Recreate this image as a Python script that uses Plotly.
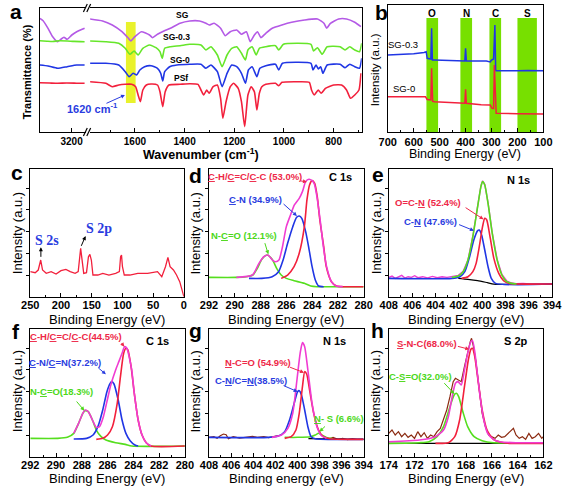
import plotly.graph_objects as go

W, H = 564, 488
FONT = "Liberation Sans"
SERIF = "Liberation Serif"

# ---------------- panel a : FTIR ----------------
a_ticks_left = [3200]
a_sg_lx = [3329, 3316, 3296, 3277, 3257, 3244, 3231, 3218, 3199, 3179, 3147]
a_sg_ly = [114.7, 112.3, 104.7, 96.3, 91.3, 93.7, 95.7, 93.7, 98, 101.3, 104.7]
a_g_lx = [3329, 3300, 3277, 3250, 3218, 3190, 3147]
a_g_ly = [92.3, 91.8, 91.5, 92.2, 92, 91.6, 91.3]
a_b_lx = [3329, 3296, 3257, 3218, 3179, 3147]
a_b_ly = [68, 67, 64.7, 66.3, 68, 68]
a_r_lx = [3329, 3290, 3257, 3220, 3180, 3147]
a_r_ly = [50.3, 50, 49.7, 50, 49.8, 49.7]

a_sg_x = [1782, 1730, 1691, 1652, 1626, 1616, 1600, 1574, 1541, 1529, 1509, 1483, 1457, 1418, 1379, 1340,
          1314, 1301, 1281, 1255, 1236, 1216, 1190, 1171, 1151, 1136, 1119, 1106, 1093, 1073, 1047, 1008,
          969, 917, 865, 839, 828, 813, 780, 748, 715, 690]
a_sg_y = [114, 112, 108, 101.3, 94.7, 92, 96.3, 101.3, 98, 95.3, 98.7, 102, 104.7, 109.7, 112, 112,
          109.7, 108, 109.7, 104.7, 97.3, 101.3, 103, 98.7, 101.3, 91.3, 98, 101.3, 95.3, 99.7, 104.7, 108,
          110.7, 113, 114, 109.7, 104.7, 109.7, 114, 114, 110.7, 106.3]
a_g_x = [1782, 1717, 1665, 1639, 1620, 1603, 1587, 1568, 1541, 1515, 1499, 1490, 1480, 1457, 1418, 1379,
         1334, 1314, 1294, 1268, 1249, 1229, 1210, 1190, 1171, 1155, 1145, 1128, 1112, 1099, 1073, 1034,
         1021, 1002, 943, 891, 881, 865, 846, 826, 774, 754, 735, 715, 696, 687]
a_g_y = [92, 91.3, 89.7, 84.7, 78.7, 82, 78, 84.7, 88, 85.3, 81.3, 74.7, 84.7, 86.3, 87.3, 88.7,
         88, 83, 86.3, 78, 66.3, 78, 84.7, 86.3, 79.7, 73, 83, 86.3, 78, 84.7, 86.3, 87.3,
         83, 88.7, 89.7, 88.7, 82, 85.3, 78.7, 86.3, 86.3, 83, 86.3, 83, 81.3, 89.7]
a_b_x = [1782, 1717, 1665, 1639, 1623, 1607, 1593, 1580, 1561, 1535, 1509, 1496, 1488, 1480, 1460, 1431,
         1379, 1334, 1314, 1294, 1268, 1249, 1229, 1210, 1190, 1171, 1155, 1143, 1128, 1109, 1097, 1073,
         1034, 1021, 1006, 943, 891, 883, 871, 861, 852, 843, 826, 774, 754, 735, 715, 696, 687]
a_b_y = [69.7, 69.7, 68, 61.3, 56.3, 59.7, 58, 63, 66.3, 67.3, 64.7, 59.7, 52, 61.3, 66.3, 68,
         68.7, 68.7, 64.7, 68, 61.3, 46.3, 59.7, 68, 66.3, 59.7, 49.7, 63, 66.3, 56.3, 64.7, 67.3,
         68.7, 63, 69.7, 70.7, 69.7, 63, 68, 64, 66.3, 59.7, 68, 68.7, 65.3, 68.7, 66.3, 64.7, 74.7]
a_r_x = [1782, 1717, 1691, 1665, 1639, 1613, 1597, 1587, 1578, 1568, 1554, 1535, 1509, 1499, 1488, 1478,
         1463, 1418, 1379, 1346, 1334, 1323, 1311, 1301, 1285, 1268, 1255, 1246, 1233, 1216, 1203, 1184,
         1171, 1158, 1145, 1132, 1119, 1109, 1099, 1089, 1073, 1034, 1021, 1008, 943, 898, 889, 878,
         862, 850, 833, 800, 768, 748, 732, 715, 698, 690]
a_r_y = [51.3, 49.7, 46.3, 48, 48.7, 48.7, 46.3, 38, 31.3, 43, 48, 49, 48, 41.3, 26.3, 41.3,
         48, 48.7, 49.3, 48.7, 43, 38, 43, 39.7, 46.3, 48, 34.7, 14.7, 31.3, 46.3, 49.7, 44.7,
         31.3, 6.3, 38, 46.3, 41.3, 23, 39.7, 46.3, 48.7, 49.7, 47.3, 50.7, 51.3, 50.7, 43, 38,
         43, 39.7, 44.7, 48, 48, 43, 34.7, 38, 43, 59.7]
a_band = [1636, 1597, 30, 111]

# ---------------- panel b : XPS survey ----------------
b_blue_x = [700, 650, 600, 560, 552, 548, 540, 534, 531, 528, 520, 450, 410, 403, 400, 397, 380, 320,
            305, 300, 292, 287, 284, 282, 200, 165, 160, 100]
b_blue_y = [78, 78.5, 79.3, 80.5, 81.3, 74.7, 74, 74, 104.7, 73, 73, 72.5, 72, 72, 84.7, 72, 72, 72,
            71, 73, 74, 108, 63, 62.3, 62.3, 63, 62.5, 62.3]
b_red_x = [700, 600, 555, 548, 540, 534, 531, 527, 520, 410, 403, 400, 397, 340, 305, 298, 292, 289,
           284, 282, 200, 100]
b_red_y = [36.3, 36.3, 36.3, 33.5, 33, 33, 64.7, 31.7, 31.3, 29.7, 29.7, 43.7, 29.7, 28.3, 28, 24.7,
           24.5, 68, 20, 19.7, 19.3, 19]
b_bands = [(551, 506), (420, 375), (308, 263), (200, 125)]
b_band_labels = ["O", "N", "C", "S"]
b_band_label_x = [528, 398, 286, 162]

# ---------------- panel c : S survey ----------------
c_x = [250, 242, 237, 233, 230, 224, 216, 208, 200, 192, 185, 177, 172, 169.5, 168, 166, 163, 158.5,
       155.3, 153, 150.6, 148, 140, 132, 122, 111, 105, 103, 101.5, 100, 97, 88, 75, 59, 43, 36, 30,
       26, 22.5, 17, 12, 6.8, 2.6, 0]
c_y = [75, 72, 80, 110, 80, 70, 75, 68, 78, 82, 75, 70, 75, 120, 145, 115, 70, 72,
       120, 127, 110, 65, 65, 70, 65, 70, 75, 120, 125, 90, 65, 65, 70, 70, 75, 60, 90,
       118, 90, 80, 65, 45, 20, 0]

# ---------------- panel d : C 1s ----------------
d_green_x = [292, 289.9, 289.1, 288.6, 288.25, 287.9, 287.5, 287.1, 286.75, 286.4, 286.0, 285.4, 284.6, 284.1, 283.6, 280]
d_green_y = [58, 58, 60, 65, 85, 112, 125, 112, 85, 65, 55, 48, 40, 32, 30, 30]
d_blue_x = [288.9, 287.9, 287.1, 286.6, 286.25, 285.9, 285.5, 285.2, 285.0, 284.8, 284.5, 284.25, 284.0, 283.75, 283.5, 283.1]
d_blue_y = [55, 55, 60, 75, 110, 160, 210, 238, 242, 235, 195, 145, 90, 50, 32, 30]
d_red_x = [286.4, 285.9, 285.4, 285.0, 284.6, 284.4, 284.2, 284.0, 283.8, 283.6, 283.4, 283.1, 282.9, 282.5, 282.1, 281.6, 280]
d_red_y = [55, 65, 90, 130, 210, 290, 335, 348, 340, 300, 230, 150, 90, 45, 32, 30, 30]
d_env_x = [289.875, 288.625, 288.125, 287.75, 287.425, 287.075, 286.825, 286.575, 286.325, 286.0, 285.675,
           285.375, 285.0, 284.75, 284.5, 284.25, 284.0, 283.825, 283.625, 283.375, 283.125, 282.875, 282.5,
           282.125, 281.625]
d_env_y = [58, 65, 100, 120, 125, 110, 105, 110, 145, 210, 245, 275, 295, 315, 345, 352, 348, 338, 300,
           230, 150, 90, 45, 32, 30]

# ---------------- panel e : N 1s ----------------
e_raw_x = [408, 407.72, 407.45, 407.17, 406.89, 406.61, 406.34, 406.06, 405.78, 405.5, 405.09, 404.67,
           404.26, 403.84, 403.43, 403.01, 402.59, 402.26, 402.04, 401.62, 401.21, 400.79, 400.38, 400.1,
           399.96, 399.77, 399.49, 399.13, 398.71, 398.3, 397.88, 397.47, 397.05, 396.49, 395.94, 395.39,
           394.83, 394]
e_raw_y = [58, 62, 55, 60, 64, 56, 60, 58, 63, 57, 60, 56, 61, 57, 60, 58, 60, 62, 64, 76, 110, 182, 272,
           332, 347, 337, 282, 192, 112, 67, 47, 41, 39, 40, 38, 39, 38, 38]
e_black_x = [402.04, 401.21, 400.38, 399.54, 398.99, 394]
e_black_y = [55, 52, 48, 42, 38, 38]
e_green_x = [402.59, 402.04, 401.62, 401.21, 400.79, 400.38, 400.1, 399.96, 399.77, 399.49, 399.13, 398.71,
             398.3, 397.88, 397.47, 397.05]
e_green_y = [58, 62, 75, 110, 180, 270, 330, 345, 335, 280, 190, 110, 65, 45, 40, 38]
e_red_x = [401.76, 401.21, 400.79, 400.51, 400.24, 399.96, 399.77, 399.6, 399.32, 398.99, 398.57, 398.16,
           397.74, 397.19, 394]
e_red_y = [55, 60, 75, 100, 150, 210, 235, 230, 180, 115, 70, 48, 40, 38, 38]
e_blue_x = [408, 402.59, 401.9, 401.48, 401.07, 400.71, 400.38, 400.24, 400.04, 399.77, 399.49, 399.21,
            398.85, 394]
e_blue_y = [55, 55, 60, 75, 120, 170, 198, 200, 185, 140, 90, 55, 40, 38]

# ---------------- panel f : C 1s ----------------
f_green_x = [292, 289.875, 289.125, 288.625, 288.25, 287.925, 287.75, 287.5, 287.175, 286.875, 286.5,
             286.125, 285.375, 284.625, 284.125, 280]
f_green_y = [55, 55, 58, 70, 100, 130, 138, 135, 110, 80, 60, 50, 42, 37, 32, 32]
f_blue_x = [288.625, 287.625, 287.125, 286.75, 286.375, 286.05, 285.8, 285.675, 285.5, 285.175, 284.875,
            284.575, 284.25, 283.875, 283.625]
f_blue_y = [53, 55, 65, 90, 140, 195, 220, 225, 218, 170, 110, 70, 48, 35, 32]
f_red_x = [286.875, 286.375, 286.0, 285.625, 285.25, 285.0, 284.75, 284.575, 284.425, 284.175, 283.925,
           283.625, 283.325, 283.0, 282.625, 280]
f_red_y = [52, 55, 65, 90, 160, 240, 310, 325, 320, 270, 190, 110, 65, 42, 32, 32]
f_env_x = [288.625, 288.25, 287.925, 287.75, 287.5, 287.175, 286.875, 286.625, 286.325, 286.05, 285.75,
           285.375, 285.125, 284.875, 284.675, 284.5, 284.325, 284.125, 283.925, 283.625, 283.325, 283.0,
           282.625]
f_env_y = [70, 100, 130, 140, 135, 110, 88, 90, 120, 165, 215, 260, 285, 310, 330, 325, 300, 260, 190,
           110, 65, 42, 32]

# ---------------- panel g : N 1s ----------------
g_raw_x = [408, 407.56, 407.27, 406.98, 406.69, 406.45, 406.25, 405.81, 405.23, 404.65, 404.06, 403.63,
           403.04, 402.6, 402.17, 401.73, None, 397.65, 397.21, 396.77, 396.33, 395.9, 395.46, 395.02,
           394.58, 394]
g_raw_y = [58, 60, 55, 63, 68, 66, 54, 60, 56, 59, 61, 58, 60, 57, 61, 63, None, 56, 52, 58, 52, 55, 51,
           54, 52, 53]
g_blue_x = [408, 402.6, 401.73, 401.15, 400.71, 400.33, 399.98, 399.83, 399.63, 399.34, 399.05, 398.76,
            398.38, 394]
g_blue_y = [58, 58, 62, 75, 110, 155, 195, 198, 185, 140, 90, 60, 54, 52]
g_red_x = [401.15, 400.56, 400.13, 399.83, 399.54, 399.34, 399.16, 398.87, 398.52, 398.08, 397.65, 397.06, 394]
g_red_y = [55, 60, 80, 130, 210, 255, 248, 195, 130, 80, 60, 54, 52]
g_env_x = [402.31, 401.44, 400.86, 400.42, 400.04, 399.75, 399.54, 399.34, 399.05, 398.67, 398.23, 397.79, 397.36]
g_env_y = [58, 65, 85, 130, 230, 310, 342, 330, 260, 160, 90, 62, 55]
g_green_x = [401.15, 399.98, 398.81, 398.38, 398.08, 397.79, 397.36, 396.77]
g_green_y = [58, 58, 60, 65, 70, 65, 58, 54]
g_black_x = [399.0, 394]
g_black_y = [54, 52]

# ---------------- panel h : S 2p ----------------
h_raw_x = [174, 173.75, 173.5, 173.25, 173, 172.75, 172.5, 172.25, 172, 171.75, 171.5, 171.25, 171,
           170.75, 170.5, 170.25, 170, 169.75, 169.5, 169.25, 169, 168.825, 168.625, 168.375, 168.125,
           167.875, 167.675, 167.575, 167.425, 167.25, 167, 166.75, 166.5, 166.25, 166, 165.75, 165.5,
           165.25, 165, 164.75, 164.5, 164.325, 164.125, 163.875, 163.625, 163.375, 163.125, 162.875,
           162.625, 162.375, 162.125, 162]
h_raw_y = [70, 80, 65, 75, 60, 70, 58, 65, 55, 75, 60, 72, 55, 65, 60, 75, 85, 110, 140, 180, 225, 235,
           230, 225, 270, 315, 345, 355, 330, 290, 210, 130, 90, 65, 60, 55, 65, 58, 60, 70, 80, 85, 65,
           55, 60, 52, 70, 55, 60, 70, 55, 60]
h_env_x = [174, 171.625, 170.375, 169.75, 169.375, 169.075, 168.825, 168.625, 168.375, 168.125, 167.875,
           167.625, 167.5, 167.325, 167.125, 166.875, 166.625, 166.325, 165.875, 165.375, 164.125, 162]
h_env_y = [45, 50, 60, 80, 120, 180, 220, 225, 215, 260, 310, 345, 348, 315, 250, 170, 110, 70, 52, 45, 42, 42]
h_green_x = [174, 171.625, 170.875, 170.25, 169.75, 169.25, 168.925, 168.75, 168.575, 168.25, 167.875,
             167.375, 166.75, 165.875, 162]
h_green_y = [40, 42, 45, 60, 90, 150, 185, 190, 180, 135, 90, 60, 48, 42, 42]
h_red_x = [170.375, 169.375, 168.875, 168.5, 168.125, 167.825, 167.625, 167.5, 167.325, 167.075, 166.75,
           166.375, 165.875, 165.375, 164.625, 162]
h_red_y = [40, 42, 60, 110, 210, 290, 322, 325, 300, 230, 140, 80, 52, 44, 40, 40]
h_black_x = [174, 162]
h_black_y = [40, 40]

# ---------------- colours ----------------
RED = "#F2203C"
BLUE = "#2036E4"
GREEN = "#55DE1E"
MAG = "#F03CD2"
VIOLET = "#B45AE6"
GREEN_A = "#66E62A"
BAND = "#77E000"
YEL = "#E9F22C"
RAW = "#8B2A10"
T_RED = "#EE2848"
T_BLUE = "#2A3CE0"
T_GREEN = "#4CD81A"


def px(x):
    return x / W


def py(y):
    return 1 - y / H


fig = go.Figure()


def ax_names(n):
    return ("x" if n == 1 else f"x{n}"), ("y" if n == 1 else f"y{n}")


def line(x, y, n, color, width=1.5, shape="spline", smoothing=0.6):
    xa, ya = ax_names(n)
    fig.add_trace(go.Scatter(x=x, y=y, xaxis=xa, yaxis=ya, mode="lines",
                             line=dict(color=color, width=width, shape=shape, smoothing=smoothing),
                             hoverinfo="skip", showlegend=False, connectgaps=False))


layout_axes = {}


def make_axes(n, xdom, ydom, xr, yr, xtick=None, tick0=None, minor=None, tickvals=None, fs=11,
              xmirror=True, yside="left", ymirror=True, yticks=None, standoff=0):
    xa, ya = ax_names(n)
    xk = "xaxis" if n == 1 else f"xaxis{n}"
    yk = "yaxis" if n == 1 else f"yaxis{n}"
    xd = dict(domain=[px(xdom[0]), px(xdom[1])], anchor=ya, range=xr, showline=True, linecolor="black",
              linewidth=1.4, mirror=xmirror, ticks="inside", ticklen=4, tickwidth=1, tickcolor="black",
              showgrid=False, zeroline=False, ticklabelstandoff=standoff,
              tickfont=dict(family=FONT, size=fs, color="black", weight="bold"))
    if tickvals is not None:
        xd.update(tickmode="array", tickvals=tickvals)
    else:
        xd.update(tickmode="linear", tick0=tick0, dtick=xtick)
    if minor is not None:
        xd["minor"] = dict(ticks="inside", ticklen=2, tickcolor="black", dtick=minor, tick0=tick0 or 0)
    yd = dict(domain=[py(ydom[1]), py(ydom[0])], anchor=xa, range=yr, showline=True, linecolor="black",
              linewidth=1.4, mirror=ymirror, side=yside, showgrid=False, zeroline=False,
              showticklabels=False)
    if yticks:
        yd.update(ticks="outside", ticklen=3, tickcolor="black", tickmode="array", tickvals=yticks)
    else:
        yd.update(ticks="")
    layout_axes[xk] = xd
    layout_axes[yk] = yd


# axes
make_axes(1, (32, 80), (8, 132), [3329, 3140], [1, 125], tickvals=a_ticks_left, fs=10, ymirror=False)
make_axes(2, (84, 365), (8, 132), [1780, 687], [1, 125], xtick=200, tick0=800, minor=100, fs=10,
          yside="right", ymirror=False)
make_axes(3, (392, 553), (5, 132), [700, 100], [1, 128], xtick=100, tick0=100, minor=50, fs=11)
low_top, low_bot = (169.3, 296.7), (329.3, 456.7)
yt = [65, 130, 195, 260, 325]
make_axes(4, (22, 181), low_top, [250, 0], [0, 382], xtick=50, tick0=0, minor=25, yticks=yt, standoff=-2)
make_axes(5, (207, 367), low_top, [292, 280], [0, 382], xtick=2, tick0=280, minor=1, yticks=yt, standoff=-2)
make_axes(6, (393, 562), low_top, [408, 394], [0, 382], xtick=2, tick0=394, minor=1, yticks=yt, standoff=-2)
make_axes(7, (22, 182), low_bot, [292, 280], [0, 382], xtick=2, tick0=280, minor=1, yticks=yt, standoff=-2)
make_axes(8, (207, 367), low_bot, [408, 394], [0, 382], xtick=2, tick0=394, minor=1, yticks=yt, standoff=-2)
make_axes(9, (393, 553), low_bot, [174, 162], [0, 382], xtick=2, tick0=162, minor=1, yticks=yt, standoff=-2)

# ---- traces panel a ----
for (lx, ly, rx, ry, col) in [(a_sg_lx, a_sg_ly, a_sg_x, a_sg_y, VIOLET),
                              (a_g_lx, a_g_ly, a_g_x, a_g_y, GREEN_A),
                              (a_b_lx, a_b_ly, a_b_x, a_b_y, BLUE),
                              (a_r_lx, a_r_ly, a_r_x, a_r_y, RED)]:
    line(lx, ly, 1, col, 1.6, smoothing=0.5)
    line(rx, ry, 2, col, 1.6, smoothing=0.5)

# ---- panel b ----
line(b_blue_x, b_blue_y, 3, BLUE, 1.5, shape="linear")
line(b_red_x, b_red_y, 3, RED, 1.5, shape="linear")

# ---- panel c ----
line(c_x, c_y, 4, RED, 1.3, shape="linear")

# ---- panel d ----
line(d_green_x, d_green_y, 5, GREEN, 1.6)
line(d_blue_x, d_blue_y, 5, BLUE, 1.6)
line(d_red_x, d_red_y, 5, RED, 1.6)
line(d_env_x, d_env_y, 5, MAG, 1.6)

# ---- panel e ----
line(e_raw_x, e_raw_y, 6, MAG, 1.4, shape="linear")
line(e_black_x, e_black_y, 6, "black", 1.2)
line(e_blue_x, e_blue_y, 6, BLUE, 1.6)
line(e_red_x, e_red_y, 6, RED, 1.6)
line(e_green_x, e_green_y, 6, GREEN, 1.6)

# ---- panel f ----
line(f_green_x, f_green_y, 7, GREEN, 1.6)
line(f_blue_x, f_blue_y, 7, BLUE, 1.6)
line(f_red_x, f_red_y, 7, RED, 1.6)
line(f_env_x, f_env_y, 7, MAG, 1.6)

# ---- panel g ----
line(g_raw_x, g_raw_y, 8, RAW, 1.2, shape="linear")
line(g_black_x, g_black_y, 8, "black", 1.2)
line(g_green_x, g_green_y, 8, GREEN, 1.5)
line(g_blue_x, g_blue_y, 8, BLUE, 1.6)
line(g_red_x, g_red_y, 8, RED, 1.6)
line(g_env_x, g_env_y, 8, MAG, 1.6)

# ---- panel h ----
line(h_black_x, h_black_y, 9, "black", 1.2, shape="linear")
line(h_raw_x, h_raw_y, 9, RAW, 1.2, shape="linear")
line(h_green_x, h_green_y, 9, GREEN, 1.6)
line(h_red_x, h_red_y, 9, RED, 1.6)
line(h_env_x, h_env_y, 9, MAG, 1.6)

shapes = []
# yellow band in a
shapes.append(dict(type="rect", xref="x2", yref="y2", x0=a_band[0], x1=a_band[1], y0=a_band[2],
                   y1=a_band[3], fillcolor=YEL, line=dict(width=0), layer="below"))
# green bands in b
for (x0, x1) in b_bands:
    shapes.append(dict(type="rect", xref="x3", yref="y3", x0=x0, x1=x1, y0=1, y1=115,
                       fillcolor=BAND, line=dict(width=0), layer="below"))
# axis-break marks in a
for yb in (8, 132):
    for xo in (0, 3.5):
        shapes.append(dict(type="line", xref="paper", yref="paper",
                           x0=px(77 + xo), y0=py(yb + 4), x1=px(81 + xo), y1=py(yb - 4),
                           line=dict(color="black", width=1.2)))

annotations = []


def ptxt(text, x, y, size, color="black", bold=True, family=FONT, angle=0, xanchor="center"):
    annotations.append(dict(text=text, x=px(x), y=py(y), xref="paper", yref="paper", showarrow=False,
                            xanchor=xanchor, yanchor="middle", textangle=angle,
                            font=dict(family=family, size=size, color=color,
                                      weight="bold" if bold else "normal")))


def dtxt(n, text, x, y, size, color="black", bold=True, family=FONT):
    xa, ya = ax_names(n)
    annotations.append(dict(text=text, x=x, y=y, xref=xa, yref=ya, showarrow=False,
                            xanchor="center", yanchor="middle",
                            font=dict(family=family, size=size, color=color,
                                      weight="bold" if bold else "normal")))


def arrow(n, tail, head, color, width=1.0):
    xa, ya = ax_names(n)
    annotations.append(dict(text="", x=head[0], y=head[1], ax=tail[0], ay=tail[1], xref=xa, yref=ya,
                            axref=xa, ayref=ya, showarrow=True, arrowhead=2, arrowsize=0.8,
                            arrowwidth=width, arrowcolor=color))


# panel letters
for (L, x, y) in [("a", 7, 11), ("b", 386, 12), ("c", 8, 172), ("d", 193, 176), ("e", 382, 174),
                  ("f", 7, 331), ("g", 193, 330), ("h", 381, 330)]:
    ptxt(L, x, y, 21)

# axis titles
ptxt("Transmittance (%)", 19, 72, 11, angle=-90)
ptxt("Wavenumber (cm<sup>-1</sup>)", 199, 154, 12.5)
ptxt("Intensity (a.u.)", 379, 70, 11.5, bold=False, angle=-90)
ptxt("Binding Energy (eV)", 472, 154, 12.5, bold=False)
for (x, y) in [(8.5, 233), (193, 233), (380, 233), (8.5, 391), (193, 391), (379, 391)]:
    ptxt("Intensity (a.u.)", x, y, 13, bold=False, angle=-90)
for (t, x, y) in [("Binding Energy (eV)", 101, 319), ("Binding Energy (eV)", 287, 319),
                  ("Binding Energy (eV)", 473, 319), ("Binding Energy (eV)", 101, 478),
                  ("Binding energy (eV)", 287, 478), ("Binding Energy (eV)", 473, 478)]:
    ptxt(t, x, y, 13, bold=False)

# panel a labels
ptxt("SG", 180, 15, 8.5)
ptxt("SG-0.3", 173, 37, 8.5)
ptxt("SG-0", 177, 60, 8.5)
ptxt("PSf", 178, 78, 8.5)
ptxt("1620 cm<sup>-1</sup>", 86, 108, 11, color=T_BLUE)
annotations.append(dict(text="", x=px(120), y=py(95), xref="paper", yref="paper", ax=-20, ay=9,
                        showarrow=True, arrowhead=2, arrowsize=0.8, arrowwidth=1, arrowcolor=T_BLUE))

# panel b labels
ptxt("SG-0.3", 408, 45, 9.5, bold=False)
ptxt("SG-0", 409, 89, 9.5, bold=False)
for lab, lx in zip(b_band_labels, b_band_label_x):
    dtxt(3, lab, lx, 119, 10)

# panel c
dtxt(4, "S 2s", 223, 170, 14, color=T_BLUE, family=SERIF)
dtxt(4, "S 2p", 137.6, 205, 14, color=T_BLUE, family=SERIF)
arrow(4, (232.7, 115), (232.7, 148), "black")
arrow(4, (168, 148), (160, 182), "black")

# panel d
dtxt(5, "<u>C</u>-H/<u>C</u>=C/<u>C</u>-C (53.0%)", 288.45, 360, 9.5, color=T_RED)
dtxt(5, "<u>C</u>-N (34.9%)", 288.4, 290, 9.5, color=T_BLUE)
dtxt(5, "N-<u>C</u>=O (12.1%)", 289.25, 185, 9.5, color=T_GREEN)
dtxt(5, "C 1s", 281.8, 360, 11)
arrow(5, (285.0, 348), (284.4, 344), T_RED)
arrow(5, (286.33, 282), (285.18, 242), T_BLUE)
arrow(5, (287.7, 165), (287.4, 127), T_GREEN)

# panel e
dtxt(6, "O=C-<u>N</u> (52.4%)", 404.67, 282, 9.5, color=T_RED)
dtxt(6, "C-<u>N</u> (47.6%)", 404.4, 225, 9.5, color=T_BLUE)
dtxt(6, "N 1s", 396.9, 350, 11)
arrow(6, (401.54, 270), (399.88, 232), T_RED)
arrow(6, (402.1, 218), (400.7, 198), T_BLUE)

# panel f
dtxt(7, "<u>C</u>-H/<u>C</u>=C/<u>C</u>-C(44.5%)", 288.45, 360, 9.5, color=T_RED)
dtxt(7, "<u>C</u>-N/<u>C</u>=N(37.2%)", 289.3, 282, 9.5, color=T_BLUE)
dtxt(7, "N-<u>C</u>=O(18.3%)", 289.6, 195, 9.5, color=T_GREEN)
dtxt(7, "C 1s", 282.1, 348, 11)
arrow(7, (285.0, 345), (284.7, 330), T_RED)
arrow(7, (286.83, 270), (286.13, 247), T_BLUE)
arrow(7, (288.5, 170), (287.8, 138), T_GREEN)

# panel g
dtxt(8, "<u>N</u>-C=O (54.9%)", 403.57, 282, 9.5, color=T_RED)
dtxt(8, "C-<u>N</u>/C=<u>N</u>(38.5%)", 404.2, 227, 9.5, color=T_BLUE)
dtxt(8, "<u>N</u>- S (6.6%)", 396.19, 115, 9.5, color=T_GREEN)
dtxt(8, "N 1s", 396.6, 348, 11)
arrow(8, (400.8, 270), (399.4, 252), T_RED)
arrow(8, (401.38, 215), (399.98, 195), T_BLUE)
arrow(8, (397.36, 95), (398.0, 75), T_GREEN)

# panel h
dtxt(9, "<u>S</u>-N-C(68.0%)", 171.0, 338, 9.5, color=T_RED)
dtxt(9, "C-<u>S</u>=O(32.0%)", 171.5, 240, 9.5, color=T_GREEN)
dtxt(9, "S 2p", 164.1, 348, 11)
arrow(9, (168.75, 332), (167.75, 322), T_RED)
arrow(9, (169.8, 225), (168.9, 188), T_GREEN)

fig.update_layout(width=W, height=H, margin=dict(l=0, r=0, t=0, b=0), autosize=False,
                  paper_bgcolor="white", plot_bgcolor="rgba(0,0,0,0)", showlegend=False,
                  font=dict(family=FONT, color="black"), shapes=shapes, annotations=annotations,
                  **layout_axes)
fig.write_html("out.html", config={"displayModeBar": False},
               post_script="document.body.style.margin='0';document.body.style.overflow='hidden';")
